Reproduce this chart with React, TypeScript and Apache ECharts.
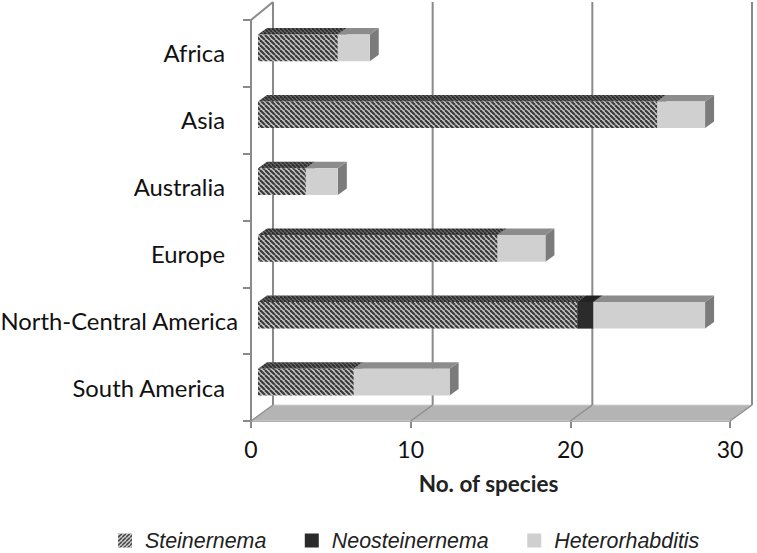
import React, { useEffect, useRef } from "react";
import * as echarts from "echarts";

const categories = ["Africa", "Asia", "Australia", "Europe", "North-Central America", "South America"];
const steinernema = [5, 25, 3, 15, 20, 6];
const neosteinernema = [0, 0, 0, 0, 1, 0];
const heterorhabditis = [2, 3, 2, 3, 7, 6];
const xTicks = [0, 10, 20, 30];

const makeHatch = (bg: string, fg: string, forward: boolean, size = 5, lw = 2.1) => {
  const c = document.createElement("canvas");
  c.width = size;
  c.height = size;
  const g = c.getContext("2d")!;
  g.fillStyle = bg;
  g.fillRect(0, 0, size, size);
  g.strokeStyle = fg;
  g.lineWidth = lw;
  for (let i = -1; i <= 1; i++) {
    g.beginPath();
    if (forward) {
      g.moveTo(i * size, size);
      g.lineTo(i * size + size, 0);
    } else {
      g.moveTo(i * size, 0);
      g.lineTo(i * size + size, size);
    }
    g.stroke();
  }
  return { type: "pattern", image: c, repeat: "repeat", imageWidth: size, imageHeight: size } as any;
};

export default function App() {
  const ref = useRef<HTMLDivElement>(null);
  useEffect(() => {
    const chart = echarts.init(ref.current!, undefined, { renderer: "svg" });
    const DX = 7, DY = -5.5, TX = 9, TY = -6.5;
    const hatchFront = makeHatch("#c4c4c4", "#3a3a3a", false);
    const hatchTop = makeHatch("#6a6a6a", "#2e2e2e", false, 4, 1.8);
    const hatchLegend = makeHatch("#ffffff", "#333333", true, 4, 1.7);

    const bar3d = (name: string, values: number[], bases: number[], front: any, top: any, side: string) => ({
      type: "custom",
      name,
      coordinateSystem: "cartesian2d",
      clip: false,
      z: 5,
      itemStyle: { color: front },
      encode: { x: [0, 1], y: 2 },
      data: values.map((v, i) => [bases[i], bases[i] + v, i]),
      renderItem: (_: any, api: any) => {
        const a = api.value(0), b = api.value(1), cat = api.value(2);
        if (a === b) return null;
        const p0 = api.coord([a, cat]);
        const p1 = api.coord([b, cat]);
        const h = api.size([0, 1])[1] * 0.4;
        const x0 = p0[0] + DX, x1 = p1[0] + DX;
        const yt = p0[1] + DY - h / 2, yb = p0[1] + DY + h / 2;
        return {
          type: "group",
          children: [
            { type: "polygon", shape: { points: [[x1, yt], [x1 + TX, yt + TY], [x1 + TX, yb + TY], [x1, yb]] }, style: { fill: side } },
            { type: "polygon", shape: { points: [[x0, yt], [x0 + TX, yt + TY], [x1 + TX, yt + TY], [x1, yt]] }, style: { fill: top } },
            { type: "rect", shape: { x: x0, y: yt, width: x1 - x0, height: h }, style: { fill: front } },
          ],
        };
      },
    });

    const base2 = steinernema.map((v, i) => v + neosteinernema[i]);
    const zero = steinernema.map(() => 0);
    const wall = "#8a8a8a";
    const BX = 22;

    chart.setOption({
      animation: false,
      backgroundColor: "#ffffff",
      grid: { left: 251, top: 20, width: 479, height: 401, containLabel: false, outerBoundsMode: "none" },
      xAxis: {
        type: "value",
        min: 0,
        max: 30,
        interval: 10,
        splitLine: { show: false },
        axisLine: { show: true, lineStyle: { color: wall, width: 2 } },
        axisTick: { show: true, length: 7, lineStyle: { color: wall, width: 2 } },
        axisLabel: { fontFamily: "Lato", fontSize: 23, color: "#111", margin: 16 },
        name: "No. of species",
        nameLocation: "middle",
        nameGap: 51,
        nameTextStyle: { fontFamily: "Lato", fontWeight: "bold", fontSize: 22.5, color: "#222", padding: [0, 4, 0, 0] },
      },
      yAxis: {
        type: "category",
        inverse: true,
        data: categories,
        axisLine: { show: true, lineStyle: { color: wall, width: 2 } },
        axisTick: { show: true, length: 8, lineStyle: { color: wall, width: 2 } },
        axisLabel: {
          margin: 13,
          hideOverlap: false,
          formatter: (v: string) => (v === "North-Central America" ? `{n|${v}}` : `{o|${v}}`),
          rich: {
            n: { fontFamily: "Lato", fontSize: 23.8, color: "#111" },
            o: { fontFamily: "Lato", fontSize: 23.8, color: "#111", padding: [0, 13, 0, 0] },
          },
        },
      },
      legend: {
        left: 113,
        top: 525,
        itemWidth: 14,
        itemHeight: 14,
        itemGap: 38.5,
        icon: "rect",
        textStyle: { fontFamily: "Liberation Sans", fontStyle: "italic", fontSize: 21.4, color: "#222", padding: [0, 0, 0, 8] },
        data: [
          { name: "Steinernema", itemStyle: { color: hatchLegend } },
          { name: "Neosteinernema", itemStyle: { color: "#2b2b2b" } },
          { name: "Heterorhabditis", itemStyle: { color: "#cfcfcf" } },
        ],
      },
      series: [
        {
          type: "custom",
          name: "walls",
          coordinateSystem: "cartesian2d",
          clip: false,
          silent: true,
          z: 1,
          encode: { x: 0 },
          data: xTicks.map((v) => [v]),
          renderItem: (_: any, api: any) => {
            const v = api.value(0);
            const band = api.size([0, 1])[1];
            const top = api.coord([0, 0])[1] - band / 2;
            const bottom = api.coord([0, categories.length - 1])[1] + band / 2;
            const x = api.coord([v, 0])[0];
            const xEnd = api.coord([xTicks[xTicks.length - 1], 0])[0];
            const bTop = top - 18, bBot = bottom - 16;
            const line = (x1: number, y1: number, x2: number, y2: number) => ({
              type: "line",
              shape: { x1, y1, x2, y2 },
              style: { stroke: wall, lineWidth: 2 },
            });
            const children: any[] = [];
            if (v === 0) {
              children.push({
                type: "polygon",
                shape: { points: [[x, bottom], [x + BX, bBot], [xEnd + BX, bBot], [xEnd, bottom]] },
                style: { fill: "#b4b4b4", stroke: "#d4d4d4", lineWidth: 1 },
              });
              children.push(line(x, top, x + BX, bTop));
            }
            children.push(line(x + BX, bTop, x + BX, bBot));
            children.push({ ...line(x, bottom, x + BX, bBot), style: { stroke: "#8f8f8f", lineWidth: 1.5 } });
            return { type: "group", children };
          },
        },
        bar3d("Steinernema", steinernema, zero, hatchFront, hatchTop, "#7a7a7a"),
        bar3d("Neosteinernema", neosteinernema, steinernema, "#2b2b2b", "#222222", "#222222"),
        bar3d("Heterorhabditis", heterorhabditis, base2, "#d0d0d0", "#8c8c8c", "#7b7b7b"),
      ],
    });
    return () => chart.dispose();
  }, []);
  return <div ref={ref} style={{ position: "fixed", left: 0, top: 0, width: 757, height: 553 }} />;
}
